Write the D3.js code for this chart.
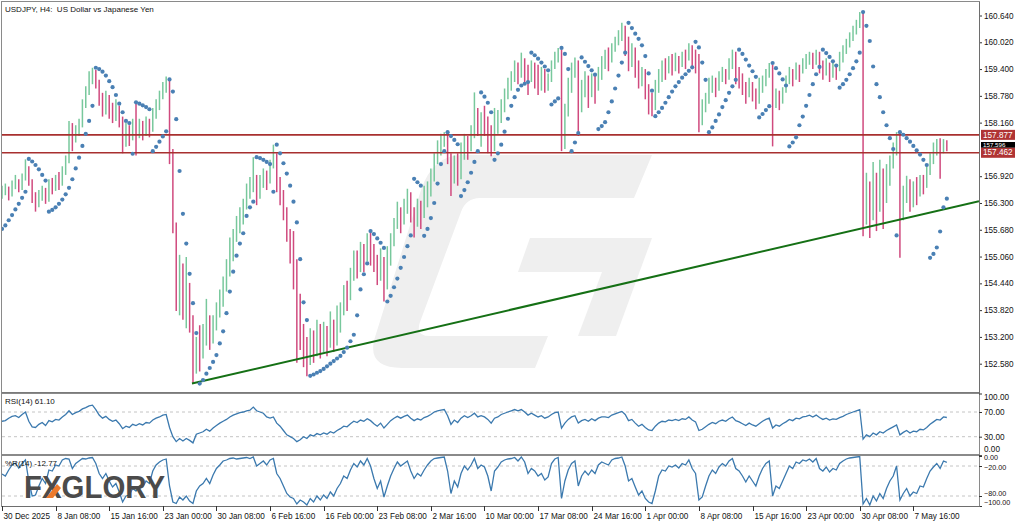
<!DOCTYPE html>
<html><head><meta charset="utf-8">
<script src="https://cdn.jsdelivr.net/npm/d3@7"></script>
<style>body{margin:0;background:#fff;} svg{display:block;font-family:"Liberation Sans",Arial,sans-serif;}</style>
</head><body><svg id="c" width="1024" height="524"></svg>
<script>
// ---------- DATA (1 value per 8h) ----------
const high = [
156.70,156.75,156.68,156.82,156.95,156.85,156.98,157.31,157.15,156.85,
156.55,156.60,156.70,156.65,156.85,156.88,156.95,157.02,157.15,157.40,
158.20,158.15,158.10,158.25,158.70,159.00,159.35,159.43,159.38,159.15,
158.85,158.90,158.80,158.62,158.70,158.55,158.30,158.15,158.10,158.25,
158.63,158.25,158.20,158.30,158.25,158.50,158.70,158.90,159.10,159.23,
159.15,157.55,155.85,155.10,154.90,155.05,154.45,153.70,153.20,153.47,
153.50,154.08,153.70,153.70,154.00,154.30,154.60,155.00,155.50,155.70,
156.00,156.20,156.40,156.75,156.90,157.36,156.95,156.95,157.10,157.05,
157.30,157.65,157.45,156.90,156.60,156.20,155.70,155.65,155.00,154.20,
153.50,153.20,153.40,153.35,153.60,153.50,153.55,153.45,153.79,153.60,
153.93,154.00,154.40,154.50,154.80,155.20,155.20,155.40,155.35,155.60,
155.65,155.35,155.10,155.25,155.05,155.30,155.60,155.95,156.33,156.20,
156.40,156.63,156.55,156.20,156.40,156.35,156.70,156.80,157.10,157.45,
157.75,157.90,157.94,157.90,157.45,157.40,157.45,157.70,157.90,157.85,
158.10,158.86,158.50,158.40,158.55,158.30,158.10,158.50,158.45,158.70,
158.95,159.20,159.35,159.60,159.55,159.78,159.65,159.50,159.60,159.55,
159.50,159.45,159.40,159.30,159.60,159.80,159.89,159.85,158.60,159.20,
159.55,159.67,159.60,159.15,159.35,159.25,159.30,159.25,159.45,159.70,
159.85,159.90,160.00,160.15,160.30,160.47,160.40,160.15,160.00,159.90,
159.60,159.45,159.40,159.05,158.85,159.15,159.40,159.60,159.65,159.70,
159.75,159.78,159.70,159.80,159.85,160.00,159.95,159.85,159.75,158.70,
158.85,159.20,159.25,159.20,159.35,159.45,159.40,159.65,159.85,159.80,
159.45,159.30,159.10,159.20,159.10,158.95,159.20,159.25,159.40,159.54,
159.50,158.95,158.90,158.98,159.25,159.45,159.40,159.55,159.50,159.65,
159.75,159.80,159.78,159.85,159.80,159.60,159.65,159.55,159.55,159.45,
159.80,159.95,160.10,160.25,160.40,160.54,160.72,160.70,157.00,156.80,
157.25,157.00,157.30,157.10,157.20,157.40,157.70,157.94,157.90,156.70,
156.93,156.85,156.80,156.90,156.95,156.95,157.15,157.45,157.70,157.78,
157.80,157.78,157.75];
const low = [
156.40,156.48,156.36,156.45,156.62,156.55,156.60,156.82,156.70,156.30,
156.10,156.20,156.35,156.28,156.33,156.50,156.58,156.60,156.70,156.95,
157.22,157.50,157.70,157.85,158.05,158.50,158.80,159.05,158.95,158.55,
158.30,158.35,158.25,158.15,158.20,158.05,157.45,157.60,157.62,157.75,
157.40,157.80,157.75,157.85,157.82,157.95,158.25,158.45,158.70,158.85,
157.20,155.60,153.80,153.70,153.60,153.40,153.30,152.12,152.35,152.40,
152.70,153.00,152.90,153.05,153.35,153.65,153.90,154.25,154.60,154.95,
155.40,155.60,155.80,156.15,156.40,156.55,156.25,156.40,156.65,156.60,
156.75,157.10,156.55,156.25,155.90,155.40,154.90,154.30,152.60,152.90,
152.50,152.29,152.55,152.60,152.75,152.70,152.85,152.75,152.95,152.85,
153.00,153.30,153.70,153.80,154.05,154.50,154.55,154.70,154.70,154.95,
154.85,154.70,154.40,154.50,154.02,154.30,154.85,155.30,155.70,155.60,
155.80,156.05,155.85,155.50,155.75,155.70,155.95,156.20,156.45,156.80,
157.20,157.40,157.60,157.20,156.46,156.75,156.70,156.85,157.30,157.30,
157.50,157.80,157.85,157.60,157.85,157.45,157.38,157.50,157.90,158.15,
158.40,158.70,158.90,159.10,159.05,159.20,159.10,158.80,159.10,158.95,
158.80,158.90,158.85,158.90,159.10,159.40,159.55,157.50,157.55,158.30,
158.85,159.20,157.85,158.40,158.75,158.50,158.75,158.60,158.90,159.15,
159.40,159.35,159.55,159.80,159.95,160.05,159.70,159.35,159.45,159.20,
158.95,159.00,158.70,158.35,158.31,158.45,158.85,159.10,159.15,159.30,
159.25,159.35,159.30,159.45,159.40,159.60,159.40,159.30,157.94,158.10,
158.40,158.60,158.85,158.75,158.90,159.10,159.05,159.15,159.40,159.05,
158.95,158.80,158.60,158.75,158.65,158.47,158.60,158.85,159.00,159.20,
157.61,158.50,158.45,158.60,158.85,159.05,159.00,159.15,159.10,159.30,
159.40,159.50,159.40,159.50,159.30,159.15,159.25,159.10,159.20,159.15,
159.35,159.55,159.75,159.90,160.05,160.20,160.35,155.53,155.80,155.49,
155.90,155.65,156.10,155.70,156.30,156.70,157.10,157.40,155.03,155.90,
156.30,156.10,156.20,156.25,156.45,156.50,156.65,156.95,157.20,157.40,
156.86,157.45,157.50];
const close = [
156.55,156.62,156.48,156.70,156.78,156.66,156.85,157.10,156.80,156.45,
156.25,156.40,156.55,156.35,156.70,156.62,156.80,156.75,157.00,157.25,
158.05,157.80,157.95,158.10,158.60,158.85,159.20,159.30,159.10,158.80,
158.45,158.70,158.50,158.30,158.55,158.20,157.70,158.00,157.85,158.10,
157.95,158.05,157.90,158.10,158.00,158.30,158.55,158.75,158.95,159.10,
157.45,155.80,154.20,154.60,153.90,154.30,153.50,152.40,153.00,152.80,
153.10,153.55,153.20,153.50,153.80,154.00,154.35,154.70,155.10,155.40,
155.85,156.05,156.25,156.60,156.75,156.85,156.45,156.75,156.95,156.80,
157.20,157.40,156.70,156.45,156.10,155.60,155.20,154.70,153.60,153.20,
152.90,152.60,153.10,152.80,153.30,152.90,153.20,153.00,153.40,153.10,
153.40,153.80,154.20,154.10,154.60,155.00,154.80,155.20,155.00,155.40,
155.20,154.90,154.60,155.00,154.40,154.90,155.40,155.80,156.10,155.90,
156.20,156.40,156.10,155.90,156.15,156.00,156.45,156.50,156.90,157.30,
157.60,157.70,157.85,157.40,156.80,157.20,156.90,157.40,157.70,157.55,
157.90,158.40,158.00,158.20,158.10,157.90,157.60,158.20,158.30,158.55,
158.80,159.00,159.20,159.45,159.30,159.55,159.40,159.20,159.45,159.30,
159.10,159.25,159.05,159.20,159.50,159.70,159.80,157.60,158.40,158.90,
159.40,159.55,158.50,158.90,159.10,158.80,159.20,158.95,159.30,159.50,
159.70,159.60,159.90,160.05,160.20,160.30,160.10,159.60,159.80,159.40,
159.10,159.30,158.90,158.60,158.50,158.90,159.20,159.40,159.35,159.55,
159.45,159.60,159.50,159.70,159.65,159.85,159.60,159.50,158.30,158.55,
158.70,158.90,159.10,158.95,159.20,159.35,159.25,159.50,159.70,159.40,
159.20,159.00,158.80,159.05,158.85,158.70,158.90,159.10,159.30,159.45,
158.60,158.80,158.65,158.90,159.10,159.30,159.20,159.40,159.35,159.55,
159.60,159.70,159.55,159.75,159.50,159.35,159.50,159.30,159.45,159.40,
159.65,159.80,160.00,160.15,160.30,160.45,160.60,155.90,156.40,156.00,
156.60,156.20,156.80,156.40,156.90,157.20,157.50,157.80,156.00,156.40,
156.70,156.30,156.60,156.50,156.80,156.70,157.00,157.30,157.50,157.70,
157.60,157.75,157.596];
const sar = [
155.70,155.78,155.90,156.02,156.15,156.28,156.42,156.56,157.32,157.26,
157.18,157.08,156.95,156.82,156.10,156.14,156.20,156.28,156.38,156.50,
156.65,156.85,157.10,157.35,157.62,157.90,158.20,158.55,159.43,159.40,
159.34,159.25,159.12,158.98,158.80,158.60,158.40,158.20,158.15,157.44,
158.63,158.60,158.56,158.52,158.47,157.50,157.60,157.72,157.84,157.96,
159.16,158.88,158.24,157.04,156.05,155.36,154.66,153.98,153.29,152.12,
152.20,152.35,152.48,152.62,152.78,153.05,153.33,153.75,154.25,154.71,
155.08,155.36,155.60,156.00,156.20,156.33,157.36,157.34,157.30,157.25,
157.20,156.56,157.65,157.45,157.22,156.98,156.70,156.33,155.85,155.00,
154.00,153.59,152.30,152.33,152.37,152.41,152.46,152.52,152.58,152.64,
152.70,152.76,152.85,152.95,153.10,153.25,153.70,154.30,154.65,154.90,
155.65,155.58,155.48,155.38,155.26,154.02,154.15,154.35,154.55,154.80,
155.05,155.30,155.55,156.86,156.78,156.70,155.54,155.70,155.95,156.30,
156.75,157.20,157.50,157.94,157.85,157.76,157.66,156.46,156.60,156.78,
157.00,157.25,157.50,158.86,158.76,158.62,158.40,157.30,157.45,157.65,
157.95,158.25,158.55,158.75,158.92,159.02,159.06,159.10,159.78,159.72,
159.64,159.55,159.46,159.37,158.58,158.65,158.72,159.89,159.75,159.40,
157.50,157.70,157.92,159.67,159.57,159.47,159.37,159.27,158.01,158.08,
158.17,158.40,158.65,158.95,159.25,159.55,159.78,160.47,160.35,160.22,
160.10,159.95,159.70,159.30,158.90,158.31,158.40,158.50,158.62,158.75,
158.88,159.00,159.10,159.20,159.28,159.36,159.44,160.03,159.90,159.55,
159.15,157.94,158.05,158.20,158.35,158.52,158.68,158.85,159.00,159.15,
159.85,159.75,159.62,159.48,159.35,159.22,158.28,158.36,158.45,158.54,
159.54,159.42,159.30,159.16,159.02,157.61,157.70,157.82,158.10,158.30,
158.55,158.80,159.05,159.28,159.45,159.85,159.77,159.68,159.58,159.48,
158.97,159.05,159.15,159.28,159.42,159.58,159.78,160.72,160.40,160.05,
159.46,159.05,158.75,158.40,158.10,157.80,157.55,155.55,157.94,157.88,
157.80,157.72,157.62,157.52,157.42,157.30,157.18,155.03,155.12,155.27,
155.64,156.20,156.40];
const rsi = [
55,56,60,63,64,61,66,70,55,46, 45,50,53,48,56,54,58,57,62,66,
72,66,69,71,75,77,80,81,74,65, 60,63,58,55,57,51,43,47,45,50,
48,51,49,53,52,57,60,62,65,66, 45,30,22,27,23,27,24,20,34,36,
38,42,39,44,48,52,55,58,62,65, 67,69,70,72,73,78,72,70,68,62,
60,62,52,47,40,33,30,27,22,25, 30,27,33,31,35,33,36,34,38,36,
40,43,47,46,51,55,53,57,55,59, 56,51,47,52,44,50,56,60,63,60,
63,65,60,56,59,57,61,63,66,70, 72,73,74,64,50,57,53,60,64,61,
64,68,62,64,62,58,52,60,62,66, 68,70,72,74,72,74,70,65,68,65,
62,64,60,62,66,69,70,44,52,58, 62,64,52,56,58,55,59,56,60,62,
62,61,65,67,69,71,66,56,58,52, 47,50,45,41,40,47,52,55,54,57,
56,58,56,59,58,62,57,54,40,42, 46,50,53,51,55,57,55,59,62,56,
54,51,48,52,49,47,51,55,58,60, 44,49,47,51,54,58,56,60,59,62,
63,65,62,65,61,58,60,57,59,58, 61,63,66,68,70,72,74,26,33,30,
36,33,38,36,40,43,46,49,33,37, 40,36,39,38,42,41,45,50,54,58,
57,62,61.1];
const wpr = [
-36,-40,-28,-18,-14,-24,-15,-8,-50,-80, -78,-60,-45,-55,-28,-30,-18,-20,-8,-5,
-6,-25,-15,-10,-5,-6,-4,-3,-15,-35, -45,-35,-50,-62,-55,-72,-92,-80,-78,-65,
-70,-60,-62,-50,-55,-30,-18,-12,-8,-6, -60,-92,-95,-82,-88,-80,-90,-95,-70,-60,
-55,-45,-55,-38,-25,-18,-10,-8,-5,-4, -6,-5,-4,-3,-5,-2,-20,-15,-10,-18,
-8,-5,-35,-45,-60,-75,-82,-85,-96,-88, -92,-98,-85,-92,-80,-88,-78,-85,-72,-80,
-65,-55,-40,-45,-28,-15,-22,-10,-18,-5, -20,-45,-65,-50,-82,-60,-40,-25,-12,-20,
-15,-10,-30,-45,-35,-40,-28,-18,-10,-5, -4,-3,-2,-30,-75,-50,-62,-35,-20,-28,
-18,-5,-25,-18,-22,-40,-70,-30,-22,-12, -8,-6,-5,-3,-10,-2,-12,-35,-25,-30,
-40,-35,-48,-42,-15,-6,-3,-85,-50,-28, -15,-10,-60,-40,-30,-38,-28,-35,-18,-12,
-15,-18,-8,-5,-4,-2,-20,-50,-45,-62, -78,-70,-85,-92,-95,-70,-40,-28,-30,-20,
-22,-18,-24,-15,-18,-8,-25,-35,-88,-82, -60,-40,-28,-35,-22,-15,-20,-10,-5,-25,
-30,-40,-52,-40,-50,-60,-40,-25,-15,-10, -80,-60,-65,-50,-35,-20,-25,-12,-15,-8,
-10,-6,-12,-5,-25,-30,-22,-32,-25,-28, -15,-10,-6,-4,-3,-2,-1,-96,-85,-98,
-80,-90,-75,-85,-65,-50,-40,-20,-88,-75, -65,-80,-72,-75,-60,-62,-45,-30,-22,-15,
-25,-10,-12.77];
const priceTicks = [160.64,160.02,159.40,158.78,158.16,156.92,156.30,155.68,155.06,154.44,153.82,153.20,152.58];
const xLabels = ["30 Dec 2025","8 Jan 08:00","15 Jan 16:00","23 Jan 00:00","30 Jan 08:00","6 Feb 16:00",
 "16 Feb 00:00","23 Feb 08:00","2 Mar 16:00","10 Mar 00:00","17 Mar 08:00","24 Mar 16:00",
 "1 Apr 00:00","8 Apr 08:00","15 Apr 16:00","23 Apr 00:00","30 Apr 08:00","7 May 16:00"];
const labelEvery = 16;             // bars between time labels
const levels = [157.877, 157.462]; // horizontal resistance/support
const lastPrice = 157.596;
const trendPts = [[56.7,152.12],[291.6,156.34]]; // [bar index, price]
const rsiLevels = [70,30], wprLevels = [-20,-80];
const rsiValue = "61.10", wprValue = "-12.77";

// ---------- LAYOUT ----------
const svg = d3.select("#c");
const L = 2, R = 979;
const mainTop = 2, mainBot = 392, rsiTop = 394, rsiBot = 454, wprTop = 456, wprBot = 506;
const N = Math.min(high.length, low.length, close.length);
const x = d3.scaleLinear().domain([0, 291.6]).range([L, R]);
const y = d3.scaleLinear().domain([152.58, 160.64]).range([363.7, 15.5]);
const yR = d3.scaleLinear().domain([0, 100]).range([455.2, 393.5]);
const yW = d3.scaleLinear().domain([-100, 0]).range([506, 456]);
const UP = "#78c89c", DOWN = "#d04a7e", SARC = "#4a80b4", IND = "#3b79ae";
const FS = 8.2;

svg.append("rect").attr("width",1024).attr("height",524).attr("fill","#fff");
const defs = svg.append("defs");
[["cm",mainTop,mainBot],["cr",rsiTop,rsiBot],["cw",wprTop,wprBot]].forEach(([id,t,b])=>{
  defs.append("clipPath").attr("id",id).append("rect").attr("x",L).attr("y",t).attr("width",R-L).attr("height",b-t);
});

// watermark G
const wm = svg.append("g").attr("fill","#efefef").attr("clip-path","url(#cm)");
wm.append("path").attr("d","M462 155 L652 155 L634 198 L480 198 Q466 198 461 212 L420 322 Q415 336 430 336 L548 336 L535 368 L402 368 Q364 368 376 334 L421 190 Q433 155 462 155 Z");
wm.append("path").attr("d","M530 238 L652 238 L616 336 L578 336 L602 272 L518 272 Z");

// main frame
svg.append("rect").attr("x",L-0.5).attr("y",mainTop-0.5).attr("width",R-L+1).attr("height",mainBot-mainTop+1)
  .attr("fill","none").attr("stroke","#8a8a8a");

// bars
const gm = svg.append("g").attr("clip-path","url(#cm)");
gm.selectAll("line.bar").data(d3.range(N)).join("line").attr("class","bar")
  .attr("x1",i=>x(i)).attr("x2",i=>x(i))
  .attr("y1",i=>y(high[i])).attr("y2",i=>y(low[i]))
  .attr("stroke",i=> close[i] >= (i>0 ? close[i-1] : close[i]) ? UP : DOWN)
  .attr("stroke-width",1.5);

// levels
gm.selectAll("line.lvl").data(levels).join("line").attr("class","lvl")
  .attr("x1",L).attr("x2",R).attr("y1",d=>y(d)).attr("y2",d=>y(d))
  .attr("stroke","#a8302f").attr("stroke-width",1.6);

// trend line
gm.append("line").attr("x1",x(trendPts[0][0])).attr("y1",y(trendPts[0][1]))
  .attr("x2",x(trendPts[1][0])).attr("y2",y(trendPts[1][1]))
  .attr("stroke","#157015").attr("stroke-width",2);

// SAR
gm.selectAll("circle.sar").data(d3.range(sar.length)).join("circle").attr("class","sar")
  .attr("cx",i=>x(i)).attr("cy",i=>y(sar[i])).attr("r",2.1).attr("fill",SARC);

// price axis
const ya = svg.append("g").attr("transform",`translate(${R},0)`)
  .call(d3.axisRight(y).tickValues(priceTicks).tickSize(3).tickPadding(2).tickFormat(d3.format(".3f")));
ya.select(".domain").remove();
ya.selectAll("text").attr("font-size",FS).attr("font-family","Liberation Sans, Arial, sans-serif").attr("fill","#111");
ya.selectAll("line").attr("stroke","#333");
svg.append("line").attr("x1",R+0.5).attr("x2",R+0.5).attr("y1",mainTop).attr("y2",wprBot).attr("stroke","#6e6e6e");

// price tags
function tag(v, fill, top, h, fs){
  const g = svg.append("g");
  g.append("rect").attr("x",R+2).attr("y",top).attr("width",34).attr("height",h).attr("fill",fill);
  g.append("text").attr("x",R+4).attr("y",top + h - (h-fs*0.72)/2 - 0.3).attr("fill","#fff").attr("font-size",fs).text(v.toFixed(3));
}
tag(levels[0], "#b03434", y(levels[0])-5, 10, FS);
// last-price tag is squeezed between the two level tags (it sits behind the lower one in the platform)
tag(lastPrice, "#000", y(lastPrice)-5, y(levels[1])-5 - (y(lastPrice)-5), 6.2);
tag(levels[1], "#b03434", y(levels[1])-5, 10, FS);

// title
svg.append("text").attr("x",5).attr("y",12).attr("font-size",8).attr("fill","#111")
  .attr("xml:space","preserve").text("USDJPY, H4:  US Dollar vs Japanese Yen");

// separators
[mainBot+1, rsiBot+1].forEach(yy=>svg.append("line").attr("x1",L).attr("x2",R).attr("y1",yy).attr("y2",yy)
  .attr("stroke","#7a7a7a").attr("stroke-width",2));
svg.append("rect").attr("x",L-0.5).attr("y",rsiTop-0.5).attr("width",R-L+1).attr("height",rsiBot-rsiTop+1).attr("fill","none").attr("stroke","#8a8a8a");
svg.append("rect").attr("x",L-0.5).attr("y",wprTop-0.5).attr("width",R-L+1).attr("height",wprBot-wprTop+1).attr("fill","none").attr("stroke","#8a8a8a");

// RSI
const gr = svg.append("g").attr("clip-path","url(#cr)");
gr.selectAll("line").data(rsiLevels).join("line").attr("x1",L).attr("x2",R).attr("y1",d=>yR(d)).attr("y2",d=>yR(d))
  .attr("stroke","#c4c4c4").attr("stroke-dasharray","3,3");
gr.append("path").datum(rsi).attr("fill","none").attr("stroke",IND).attr("stroke-width",1.3)
  .attr("d",d3.line().x((d,i)=>x(i)).y(d=>yR(d)));
svg.append("text").attr("x",5).attr("y",404).attr("font-size",8).attr("fill","#111").text("RSI(14) " + rsiValue);

// %R
const gw = svg.append("g").attr("clip-path","url(#cw)");
gw.selectAll("line").data(wprLevels).join("line").attr("x1",L).attr("x2",R).attr("y1",d=>yW(d)).attr("y2",d=>yW(d))
  .attr("stroke","#c4c4c4").attr("stroke-dasharray","3,3");
gw.append("path").datum(wpr).attr("fill","none").attr("stroke",IND).attr("stroke-width",1.3)
  .attr("d",d3.line().x((d,i)=>x(i)).y(d=>yW(d)));
svg.append("text").attr("x",5).attr("y",466).attr("font-size",8).attr("fill","#111").text("%R(14) " + wprValue);

// indicator axes (labels nudged inside their panel like the platform does)
function indAxis(scale, vals, shifts, fs){
  const g = svg.append("g").attr("transform",`translate(${R},0)`)
    .call(d3.axisRight(scale).tickValues(vals).tickSize(3).tickPadding(2).tickFormat(d3.format(".2f")));
  g.select(".domain").remove();
  g.selectAll("line").attr("stroke","#333");
  g.selectAll("text").attr("font-size",fs).attr("fill","#111").attr("font-family","Liberation Sans, Arial, sans-serif")
    .attr("dy",(d,i)=>(0.32 + shifts[i]/fs)+"em");
}
indAxis(yR, [100,70,30,0], [3.5,0,0,-6], FS);
indAxis(yW, [0,-20,-80,-100], [1.5,1.5,-2.5,-3.5], 7.2);

// time axis
svg.append("line").attr("x1",L).attr("x2",R+1).attr("y1",wprBot+0.5).attr("y2",wprBot+0.5).attr("stroke","#6e6e6e");
const tg = svg.append("g");
xLabels.forEach((lab,j)=>{
  const xx = Math.round(x(j*labelEvery)) + 0.5;
  tg.append("line").attr("x1",xx).attr("x2",xx).attr("y1",wprBot).attr("y2",wprBot+5).attr("stroke","#333");
  tg.append("text").attr("x",xx+1).attr("y",519).attr("font-size",FS).attr("fill","#111").text(lab);
});

// FXGLORY logo
const lg = svg.append("g");
lg.append("text").attr("x",24).attr("y",498).attr("font-size",31).attr("font-weight","bold")
  .attr("fill","#4b4b4b").attr("textLength",141).attr("lengthAdjust","spacingAndGlyphs").text("FXGLORY");
lg.append("path").attr("d","M46 498 L53 498 L61 488 L57 484 Z").attr("fill","#ec7a2c");
</script></body></html>
